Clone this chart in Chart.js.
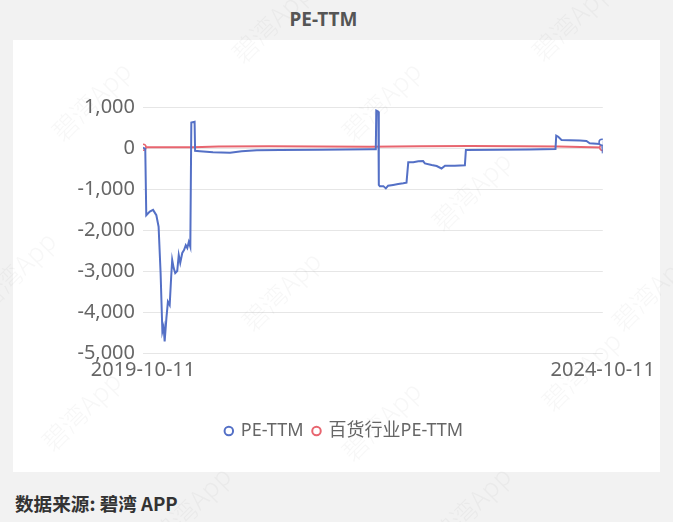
<!DOCTYPE html>
<html>
<head>
<meta charset="utf-8">
<script src="https://cdn.jsdelivr.net/npm/chart.js@4.4.0/dist/chart.umd.min.js"></script>
<style>
  html, body { margin:0; padding:0; }
  body { width:673px; height:522px; background:#f2f2f2; position:relative; overflow:hidden;
         font-family:"Noto Sans","Noto Sans CJK SC",sans-serif; }
  .title { position:absolute; left:0; width:647px; top:6px; text-align:center; font-size:19px; font-weight:700; color:#555; }
  .panel { position:absolute; left:13px; top:40px; width:647px; height:432px; background:#fff; }
  .foot { position:absolute; left:15px; top:489px; font-size:18.6px; font-weight:700; color:#333;
          font-family:"Noto Sans CJK SC","Noto Sans",sans-serif; }
  .wm { position:absolute; inset:0; pointer-events:none; }
  .wm span { position:absolute; font-family:"Noto Sans CJK SC",serif; font-weight:300; font-size:26px; color:rgba(120,120,120,0.06);
             transform:translate(-50%,-50%) rotate(-45deg); white-space:nowrap; }
</style>
</head>
<body>
<div class="title">PE-TTM</div>
<div class="panel"><canvas id="chartPE"></canvas></div>
<div class="foot">数据来源: 碧湾 APP</div>
<div class="wm" id="wm"></div>

<script>
// days since 2019-10-11 and PE values
const startDate = '2019-10-11';
const endDate = '2024-10-11';
const spanDays = 1827;

const peDays = [0, 9, 13, 27, 40, 53, 62, 70, 77, 82, 86, 93, 99, 106, 112, 116, 122, 128, 136, 142,
  148, 156, 163, 170, 176, 182, 188, 192, 205, 207, 226, 278, 346, 392, 452, 544, 703, 910, 925, 927,
  935, 937, 941, 955, 965, 974, 994, 1014, 1034, 1047, 1054, 1074, 1094, 1113, 1120, 1147, 1167, 1186,
  1200, 1239, 1279, 1283, 1418, 1537, 1639, 1642, 1650, 1663, 1696, 1736, 1762, 1775, 1815, 1824, 1827];
const peValues = [10, -20, -1640, -1550, -1510, -1640, -1920, -3060, -4480, -4360, -4720, -4150, -3750, -3830, -3140, -2730, -2930, -3050, -3000, -2610,
  -2800, -2560, -2490, -2370, -2440, -2290, -2410, 620, 640, -70, -80, -105, -115, -80, -55, -50, -40, -30, -30, 910,
  885, -900, -930, -930, -985, -920, -900, -880, -860, -845, -350, -350, -325, -320, -375, -415, -440, -500,
  -430, -430, -420, -50, -40, -35, -25, 300, 275, 195, 190, 180, 170, 115, 100, 140, -130];

const indDays = [0, 200, 300, 500, 700, 900, 1100, 1300, 1500, 1650, 1827];
const indValues = [20, 20, 35, 40, 35, 30, 40, 50, 45, 35, 10];

const yTicks = [1000, 0, -1000, -2000, -3000, -4000, -5000];
const xTickLabels = [startDate, endDate];

const wmSpots = [[90,100],[270,22],[380,100],[570,20],[15,270],[280,290],[470,190],[650,290],[80,410],[380,420],[580,370],[190,505],[470,505]];
const wm = document.getElementById('wm');
wmSpots.forEach(p => {
  const s = document.createElement('span');
  s.textContent = '碧湾App';
  s.style.left = p[0] + 'px'; s.style.top = p[1] + 'px';
  wm.appendChild(s);
});

const toXY = (days, vals) => days.map((d, i) => ({ x: d, y: vals[i] }));
const bluePts = toXY(peDays, peValues);
const redPts = toXY(indDays, indValues);

const tickFont = { family: '"Noto Sans","Noto Sans CJK SC",sans-serif', size: 20 };

new Chart(document.getElementById('chartPE'), {
  type: 'line',
  data: {
    datasets: [
      { label: 'PE-TTM', data: bluePts, borderColor: '#5470c6', backgroundColor: '#fff', borderWidth: 2,
        pointRadius: bluePts.map((p, i) => i === bluePts.length - 2 ? 3 : 0),
        pointBorderColor: '#5470c6', pointBackgroundColor: '#fff', pointBorderWidth: 1.5, tension: 0 },
      { label: '百货行业PE-TTM', data: redPts, borderColor: '#e8656f', backgroundColor: '#fff', borderWidth: 2,
        pointRadius: redPts.map((p, i) => (i === 0 || i === redPts.length - 1) ? 3 : 0),
        pointBorderColor: '#e8656f', pointBackgroundColor: '#fff', pointBorderWidth: 1.5, tension: 0 }
    ]
  },
  options: {
    responsive: true, maintainAspectRatio: false, animation: false,
    layout: { padding: { top: 67, right: 0, bottom: 22, left: 16 } },
    plugins: {
      tooltip: { enabled: false },
      legend: {
        position: 'bottom',
        labels: {
          usePointStyle: true, pointStyle: 'circle', boxWidth: 6, boxHeight: 6, padding: 10,
          color: '#666', font: { family: '"Noto Sans","Noto Sans CJK SC",sans-serif', size: 18 },
          generateLabels(chart) {
            return Chart.defaults.plugins.legend.labels.generateLabels(chart).map(l => {
              l.fillStyle = '#fff'; l.lineWidth = 2; return l;
            });
          }
        }
      }
    },
    scales: {
      x: {
        type: 'linear', min: 0, max: spanDays,
        afterBuildTicks(s) { s.ticks = [{ value: 0 }, { value: spanDays }]; },
        afterFit(s) { s.height = 59; },
        grid: { display: false, drawTicks: false },
        border: { display: false },
        ticks: {
          padding: 5, color: '#666', font: tickFont, maxRotation: 0, autoSkip: false,
          callback: (v) => v === 0 ? xTickLabels[0] : xTickLabels[1]
        }
      },
      y: {
        min: yTicks[yTicks.length - 1], max: yTicks[0],
        afterBuildTicks(s) { s.ticks = yTicks.map(v => ({ value: v })); },
        afterFit(s) { s.width = 114; },
        grid: { color: '#e6e6e6', drawTicks: false },
        border: { display: false },
        ticks: { padding: 8, color: '#666', font: tickFont, callback: v => v.toLocaleString('en-US') }
      },
      // empty right-hand gutter so the legend centres on the whole panel
      yPad: {
        position: 'right', min: 0, max: 1,
        afterFit(s) { s.width = 57; },
        grid: { display: false, drawTicks: false },
        border: { display: false },
        ticks: { display: false }
      }
    }
  }
});
</script>
</body>
</html>
